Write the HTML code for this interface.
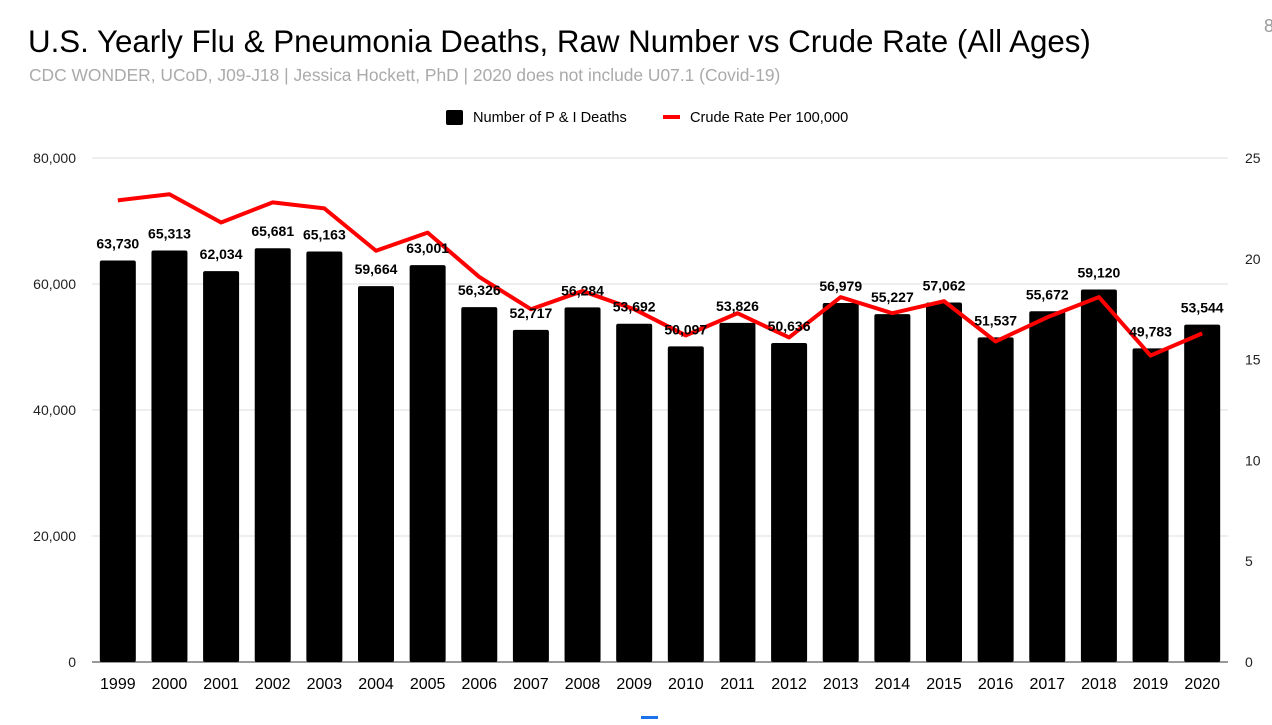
<!DOCTYPE html>
<html><head><meta charset="utf-8"><style>
body{margin:0;background:#fff;width:1272px;height:720px;overflow:hidden;font-family:"Liberation Sans",Arial,sans-serif;}
</style></head><body>
<svg id="chart" width="1272" height="720" xmlns="http://www.w3.org/2000/svg">
<text x="28" y="52" font-size="31.3" fill="#000">U.S. Yearly Flu &amp; Pneumonia Deaths, Raw Number vs Crude Rate (All Ages)</text>
<text x="29" y="81" font-size="17.4" fill="#aaa">CDC WONDER, UCoD, J09-J18 | Jessica Hockett, PhD | 2020 does not include U07.1 (Covid-19)</text>
<g>
<rect x="446" y="110" width="17" height="15" rx="2" fill="#000"/>
<text x="473" y="122" font-size="14.6">Number of P &amp; I Deaths</text>
<rect x="663" y="115" width="17" height="4" fill="#f00"/>
<text x="690" y="122" font-size="14.6">Crude Rate Per 100,000</text>
</g>
<g id="grid"></g><g id="bars"></g><g id="line"></g><g id="labels"></g>
<text x="1264" y="32" font-size="18" fill="#999">8</text>
<rect x="641" y="716" width="17" height="3" fill="#1a73e8"/>
</svg>
<script>
const years=["1999","2000","2001","2002","2003","2004","2005","2006","2007","2008","2009","2010","2011","2012","2013","2014","2015","2016","2017","2018","2019","2020"];
const deaths=[63730,65313,62034,65681,65163,59664,63001,56326,52717,56284,53692,50097,53826,50636,56979,55227,57062,51537,55672,59120,49783,53544];
const rates=[22.9,23.2,21.8,22.8,22.5,20.4,21.3,19.1,17.5,18.4,17.5,16.2,17.3,16.1,18.1,17.3,17.9,15.9,17.1,18.1,15.2,16.3];
const leftTicks=[0,20000,40000,60000,80000];
const rightTicks=[0,5,10,15,20,25];
const NS="http://www.w3.org/2000/svg";
const x0=92,x1=1228,yTop=158,yBot=662;
const step=(x1-x0)/years.length;
const xC=i=>x0+step*(i+0.5);
const yL=v=>yBot-(v/80000)*(yBot-yTop);
const yR=v=>yBot-(v/25)*(yBot-yTop);
function mk(t,a,p){const e=document.createElementNS(NS,t);for(const k in a)e.setAttribute(k,a[k]);p.appendChild(e);return e;}
const g=document.getElementById('grid'),b=document.getElementById('bars'),l=document.getElementById('line'),lb=document.getElementById('labels');
leftTicks.forEach(v=>{const y=yL(v);
const ln=mk('line',{x1:x0,x2:x1,y1:y,y2:y,stroke:v===0?'#333':'#ddd','stroke-width':1},g);


const t=mk('text',{x:76,y:y+5,'font-size':14,'text-anchor':'end',fill:'#222'},g);t.textContent=v.toLocaleString('en-US');

});
rightTicks.forEach(v=>{const t=mk('text',{x:1245,y:yR(v)+5,'font-size':14,fill:'#222'},g);t.textContent=v;

});
let pts=[];
years.forEach((yr,i)=>{const cx=xC(i),w=36,y=yL(deaths[i]);
const r=mk('rect',{x:cx-w/2,y:y,width:w,height:yBot-y,fill:'#000',rx:2},b);


const t=mk('text',{x:cx,y:y-12,'font-size':14,'font-weight':'bold','text-anchor':'middle',fill:'#000'},lb);t.textContent=deaths[i].toLocaleString('en-US');


const xt=mk('text',{x:cx,y:689,'font-size':16,'text-anchor':'middle',fill:'#000'},g);xt.textContent=yr;


pts.push(cx+','+yR(rates[i]));});
const pl=mk('polyline',{points:pts.join(' '),fill:'none',stroke:'#f00','stroke-width':4,'stroke-linejoin':'round'},l);


</script>
</body></html>
